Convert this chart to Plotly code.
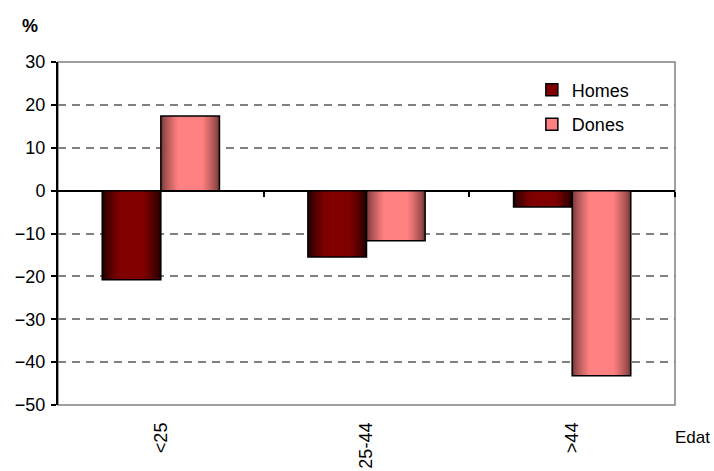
import plotly.graph_objects as go

# age groups and change (%) per sex
edats = ["<25", "25-44", ">44"]
homes = [-20.8, -15.5, -3.8]
dones = [17.4, -11.7, -43.2]

y_ticks = [-50, -40, -30, -20, -10, 0, 10, 20, 30]

FONT = "Liberation Sans, Arial, sans-serif"
BAR_W = 0.285
N_LAYERS = 14


def mix(c1, c2, t):
    return "rgb(%d,%d,%d)" % tuple(round(a + (b - a) * t) for a, b in zip(c1, c2))


def gradient_bars(fig, name, values, center, edge_rgb, mid_rgb, legend_rgb):
    """Fake the cylinder shading with nested bars, dark at the edges."""
    for k in range(N_LAYERS):
        frac = 1 - k / N_LAYERS
        t = min(1.0, k / (N_LAYERS * 0.55)) ** 0.8
        fig.add_trace(go.Bar(
            x=edats, y=values, name=name,
            width=BAR_W * frac, offset=center - BAR_W * frac / 2,
            marker=dict(color=mix(edge_rgb, mid_rgb, t), line=dict(width=0)),
            showlegend=False, hoverinfo="skip",
        ))
    # outline
    fig.add_trace(go.Bar(
        x=edats, y=values, name=name,
        width=BAR_W, offset=center - BAR_W / 2,
        marker=dict(color="rgba(0,0,0,0)", line=dict(color="black", width=1.5)),
        showlegend=False,
    ))
    # legend entry
    fig.add_trace(go.Bar(
        x=[None], y=[None], name=name, legendgroup=name,
        marker=dict(color=legend_rgb, line=dict(color="black", width=1.5)),
    ))


fig = go.Figure()
gradient_bars(fig, "Homes", homes, -BAR_W / 2, (38, 0, 0), (128, 0, 0), "#800000")
gradient_bars(fig, "Dones", dones, BAR_W / 2, (125, 60, 60), (255, 128, 128), "#FF8080")

# empty trace so the tick-only axis on the zero line gets drawn
fig.add_trace(go.Scatter(x=[None], y=[None], xaxis="x2", showlegend=False,
                         hoverinfo="skip"))

fig.update_layout(
    width=714, height=471,
    margin=dict(l=58, r=39, t=62, b=66),
    paper_bgcolor="white", plot_bgcolor="white",
    barmode="overlay",
    font=dict(family=FONT, size=18, color="black"),
    xaxis=dict(
        type="category", range=[-0.5, 2.5],
        showgrid=False, zeroline=False, showline=False,
        ticks="", tickangle=-90, ticklabelstandoff=13,
        tickfont=dict(size=18), automargin=False,
    ),
    xaxis2=dict(
        overlaying="x", anchor="free", position=50 / 80,
        range=[-0.5, 2.5], tickvals=[0.5, 1.5, 2.5],
        ticks="outside", ticklen=5, tickwidth=1.5, tickcolor="black",
        showticklabels=False, showgrid=False, zeroline=False, showline=False,
    ),
    yaxis=dict(
        range=[-50, 30], tickvals=y_ticks,
        showline=True, linecolor="black", linewidth=2,
        ticks="outside", ticklen=5, tickwidth=1.5, tickcolor="black",
        showgrid=True, gridcolor="#808080", griddash="8px,6px", gridwidth=1.5,
        zeroline=True, zerolinecolor="black", zerolinewidth=1.5,
        tickfont=dict(size=18), automargin=False, ticklabelstandoff=2,
    ),
    legend=dict(
        x=0.768, y=0.972, xanchor="left", yanchor="top",
        bgcolor="rgba(0,0,0,0)", font=dict(size=18),
        tracegroupgap=8,
    ),
    shapes=[dict(type="rect", xref="paper", yref="paper", x0=0, x1=1, y0=0, y1=1,
                 line=dict(color="#808080", width=1.5), layer="below")],
    annotations=[
        dict(text="<b>%</b>", xref="paper", yref="paper", x=-0.045, y=1.105,
             showarrow=False, font=dict(size=18), xanchor="center", yanchor="middle"),
        dict(text="Edat", xref="paper", yref="paper", x=0.997, y=-0.095,
             showarrow=False, font=dict(size=17), xanchor="left", yanchor="middle"),
    ],
)

# drop the default page margin so the figure fills the window exactly
fig.write_html("out.html", config={"displayModeBar": False},
               post_script="document.body.style.margin='0';")
